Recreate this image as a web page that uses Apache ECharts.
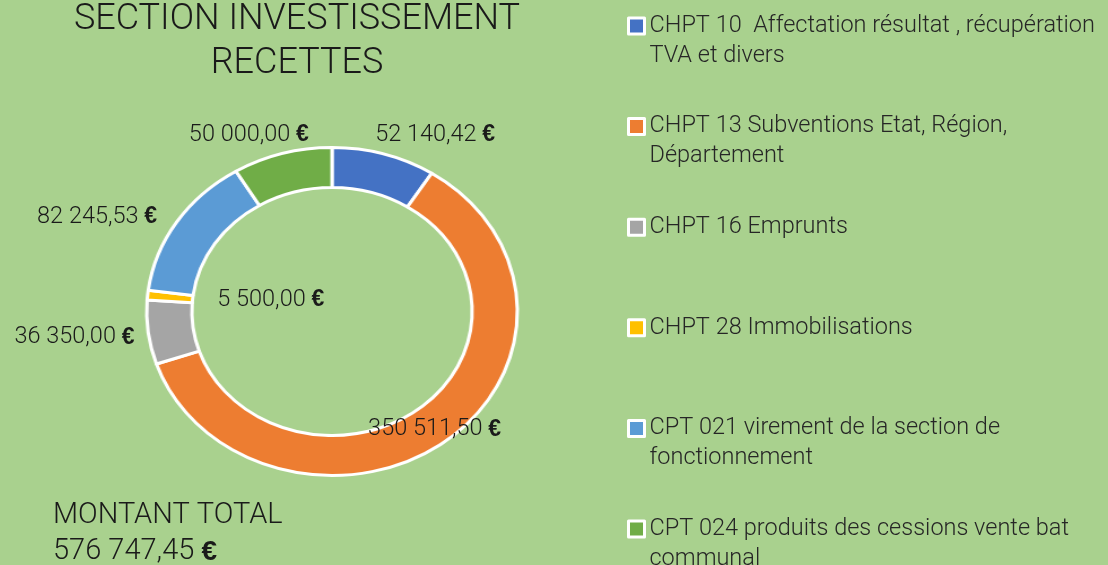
<!DOCTYPE html>
<html>
<head>
<meta charset="utf-8">
<script src="https://cdn.jsdelivr.net/npm/echarts@6/dist/echarts.min.js"></script>
<style>
  html, body { margin: 0; padding: 0; background: #A9D18E; }
  .layer { position: absolute; left: 0; top: 0; width: 1108px; height: 565px; }
  /* ring is stretched horizontally like the Excel donut */
  #ring { transform-origin: 332px 311.5px; transform: scaleX(1.13); }
</style>
</head>
<body>
<div id="ring" class="layer"></div>
<div id="main" class="layer"></div>
<script>
// données
const categories = [
  "CHPT 10  Affectation résultat , récupération TVA et divers",
  "CHPT 13 Subventions Etat, Région, Département",
  "CHPT 16 Emprunts",
  "CHPT 28 Immobilisations",
  "CPT 021 virement de la section de fonctionnement",
  "CPT 024 produits des cessions vente bat communal"
];
const values = [52140.42, 350511.50, 36350.00, 5500.00, 82245.53, 50000.00];
const colors = ["#4472C4", "#ED7D31", "#A5A5A5", "#FFC000", "#5B9BD5", "#70AD47"];
// texte de la légende coupé comme dans Excel
const legendLines = [
  "CHPT 10  Affectation résultat , récupération\nTVA et divers",
  "CHPT 13 Subventions Etat, Région,\nDépartement",
  "CHPT 16 Emprunts\n ",
  "CHPT 28 Immobilisations\n ",
  "CPT 021 virement de la section de\nfonctionnement",
  "CPT 024 produits des cessions vente bat\ncommunal"
];
const insideLabels = [1, 3];
// petits décalages des étiquettes
const labelNudge = [
  { dx: -12, dy: -5 },
  { dx: 12, dy: 2 },
  { dx: -15, dy: 3 },
  { dx: 85, dy: 3 },
  { dx: -20, dy: 3 },
  { dx: 30, dy: -4 }
];

const FONT = "Roboto";
const center = [332, 311.5];
const radius = [124, 164];

function fmt(n) {
  let parts = n.toFixed(2).split(".");
  parts[0] = parts[0].replace(/\B(?=(\d{3})+(?!\d))/g, " ");
  return parts[0] + "," + parts[1];
}

const total = values.reduce((a, b) => a + b, 0);

function makeData(transparent) {
  return values.map((v, i) => {
    let d = {
      name: categories[i],
      value: v,
      itemStyle: { color: transparent ? "rgba(0,0,0,0)" : colors[i] }
    };
    if (insideLabels.indexOf(i) >= 0) {
      d.label = { position: "inside" };
    }
    return d;
  });
}

// anneau (étiré)
const ringChart = echarts.init(document.getElementById("ring"));
ringChart.setOption({
  animation: false,
  series: [
    {
      type: "pie",
      silent: true,
      center: center,
      radius: radius,
      startAngle: 90,
      label: { show: false },
      labelLine: { show: false },
      itemStyle: { borderColor: "#ffffff", borderWidth: 3 },
      data: makeData(false)
    }
  ]
});

// textes, légende, étiquettes
const chart = echarts.init(document.getElementById("main"));
chart.setOption({
  animation: false,
  title: [
    {
      text: "SECTION INVESTISSEMENT\nRECETTES",
      left: 297,
      top: -2,
      padding: 0,
      textAlign: "center",
      textStyle: {
        fontFamily: FONT,
        fontWeight: 300,
        fontSize: 36,
        lineHeight: 44,
        color: "#1a1a1a"
      }
    },
    {
      text: "MONTANT TOTAL\n" + fmt(total) + " {e|€}",
      left: 53,
      top: 498,
      padding: 0,
      textStyle: {
        fontFamily: FONT,
        fontWeight: 300,
        fontSize: 29,
        lineHeight: 36,
        color: "#1a1a1a",
        rich: {
          e: { fontFamily: "Liberation Sans", fontWeight: "bold", fontSize: 28, color: "#1a1a1a" }
        }
      }
    }
  ],
  legend: {
    orient: "vertical",
    left: 627,
    top: -19,
    height: 700,
    padding: 0,
    itemGap: 10.6,
    itemWidth: 16,
    itemHeight: 16,
    icon: "rect",
    selectedMode: false,
    formatter: function (name) {
      return " \n" + legendLines[categories.indexOf(name)];
    },
    textStyle: {
      fontFamily: FONT,
      fontWeight: 300,
      fontSize: 23.5,
      lineHeight: 30,
      color: "#262626"
    },
    data: categories.map((c, i) => ({
      name: c,
      itemStyle: { color: colors[i], borderColor: "#ffffff", borderWidth: 3 }
    }))
  },
  series: [
    {
      type: "pie",
      silent: true,
      center: center,
      radius: radius,
      startAngle: 90,
      avoidLabelOverlap: false,
      label: {
        show: true,
        position: "outside",
        formatter: function (p) {
          return "{v|" + fmt(p.value) + " }{e|€}";
        },
        rich: {
          v: { fontFamily: FONT, fontWeight: 300, fontSize: 23.5, color: "#1a1a1a" },
          e: { fontFamily: "Liberation Sans", fontWeight: "bold", fontSize: 23, color: "#1a1a1a" }
        },
        textBorderWidth: 0
      },
      labelLine: { show: false, length: 15, length2: 0 },
      labelLayout: function (params) {
        return labelNudge[params.dataIndex];
      },
      data: makeData(true)
    }
  ]
});
</script>
</body>
</html>
